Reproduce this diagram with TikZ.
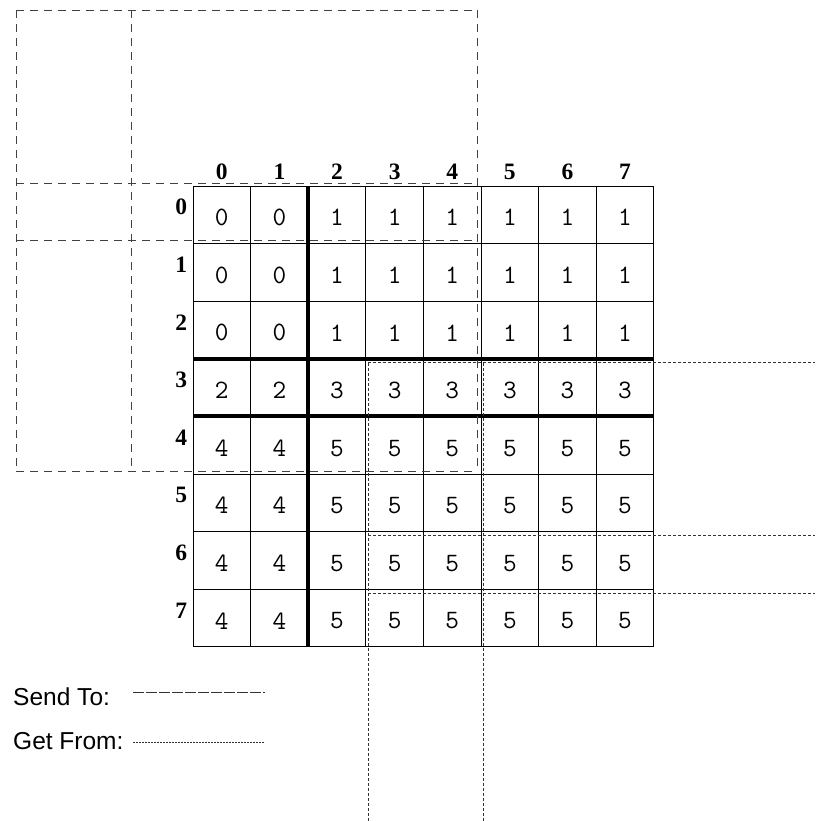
\documentclass[tikz,border=0pt]{standalone}
\usepackage{fontspec}
\setmainfont{Liberation Serif}
\setsansfont{Liberation Sans}

\begin{document}
\begin{tikzpicture}[
  x=57.6pt,
  y=-57.6pt,
  line cap=butt,
  cell/.style={inner sep=0pt,minimum size=57.6pt,font=\ttfamily\fontsize{26.5}{26.5}\selectfont},
  index/.style={inner sep=0pt,font=\bfseries\fontsize{23.5}{23.5}\selectfont},
  legend/.style={inner sep=0pt,anchor=base west,font=\sffamily\fontsize{24.5}{24.5}\selectfont},
  gridline/.style={draw=black,line width=1pt},
  splitline/.style={draw=black,line width=4pt},
  sendline/.style={draw=black!75,line width=1pt,dash pattern=on 8pt off 6pt},
  getline/.style={draw=black!80,line width=0.9pt,dash pattern=on 3pt off 2pt},
  sendkey/.style={draw=black!80,line width=0.9pt,dash pattern=on 11pt off 2pt},
  getkey/.style={draw=black!80,line width=0.9pt,dash pattern=on 2pt off 1pt}
]
  \useasboundingbox (-3.351,-3.229) rectangle (10.799,11.024);

  % Cell values: owner block of each entry.
  \foreach \r in {0,...,7} {
    \foreach \c in {0,...,7} {
      \pgfmathtruncatemacro{\val}{ifthenelse(\r<3,0,ifthenelse(\r==3,2,4))+(\c>1)}
      \node[cell] (c\r\c) at (\c+0.5,\r+0.55) {\val};
    }
  }

  % Row and column indices.
  \foreach \i in {0,...,7} {
    \node[index,anchor=base] (col\i) at (\i+0.5,-0.12) {\i};
    \node[index,anchor=base east] (row\i) at (-0.1,\i+0.5) {\i};
  }

  % Array grid.
  \foreach \i in {0,...,8} {
    \draw[gridline] (\i,0) -- (\i,8);
    \draw[gridline] (0,\i) -- (8,\i);
  }

  % Block boundaries.
  \draw[splitline] (2,0) -- (2,8);
  \draw[splitline] (0,3) -- (8,3);
  \draw[splitline] (0,4) -- (8,4);

  % Send regions.
  \foreach \x in {-3.07,-1.07,4.93} {
    \draw[sendline] (\x,-3.05) -- (\x,4.95);
  }
  \foreach \y in {-3.05,-0.05,0.95,4.95} {
    \draw[sendline] (-3.07,\y) -- (4.93,\y);
  }

  % Receive regions.
  \foreach \x in {3.04,5.04} {
    \draw[getline] (\x,3.07) -- (\x,11.024);
  }
  \foreach \y in {3.07,6.07,7.07} {
    \draw[getline] (3.04,\y) -- (10.799,\y);
  }

  % Legend.
  \node[legend] (sendtxt) at (-3.125,9.02) {Send To:};
  \node[legend] (gettxt) at (-3.125,9.79) {Get From:};
  \coordinate (sendA) at (-1.04,8.80);
  \coordinate (sendB) at (1.25,8.80);
  \coordinate (getA) at (-1.04,9.665);
  \coordinate (getB) at (1.25,9.665);
  \draw[sendkey] (sendA) -- (sendB);
  \draw[getkey] (getA) -- (getB);
\end{tikzpicture}
\end{document}
